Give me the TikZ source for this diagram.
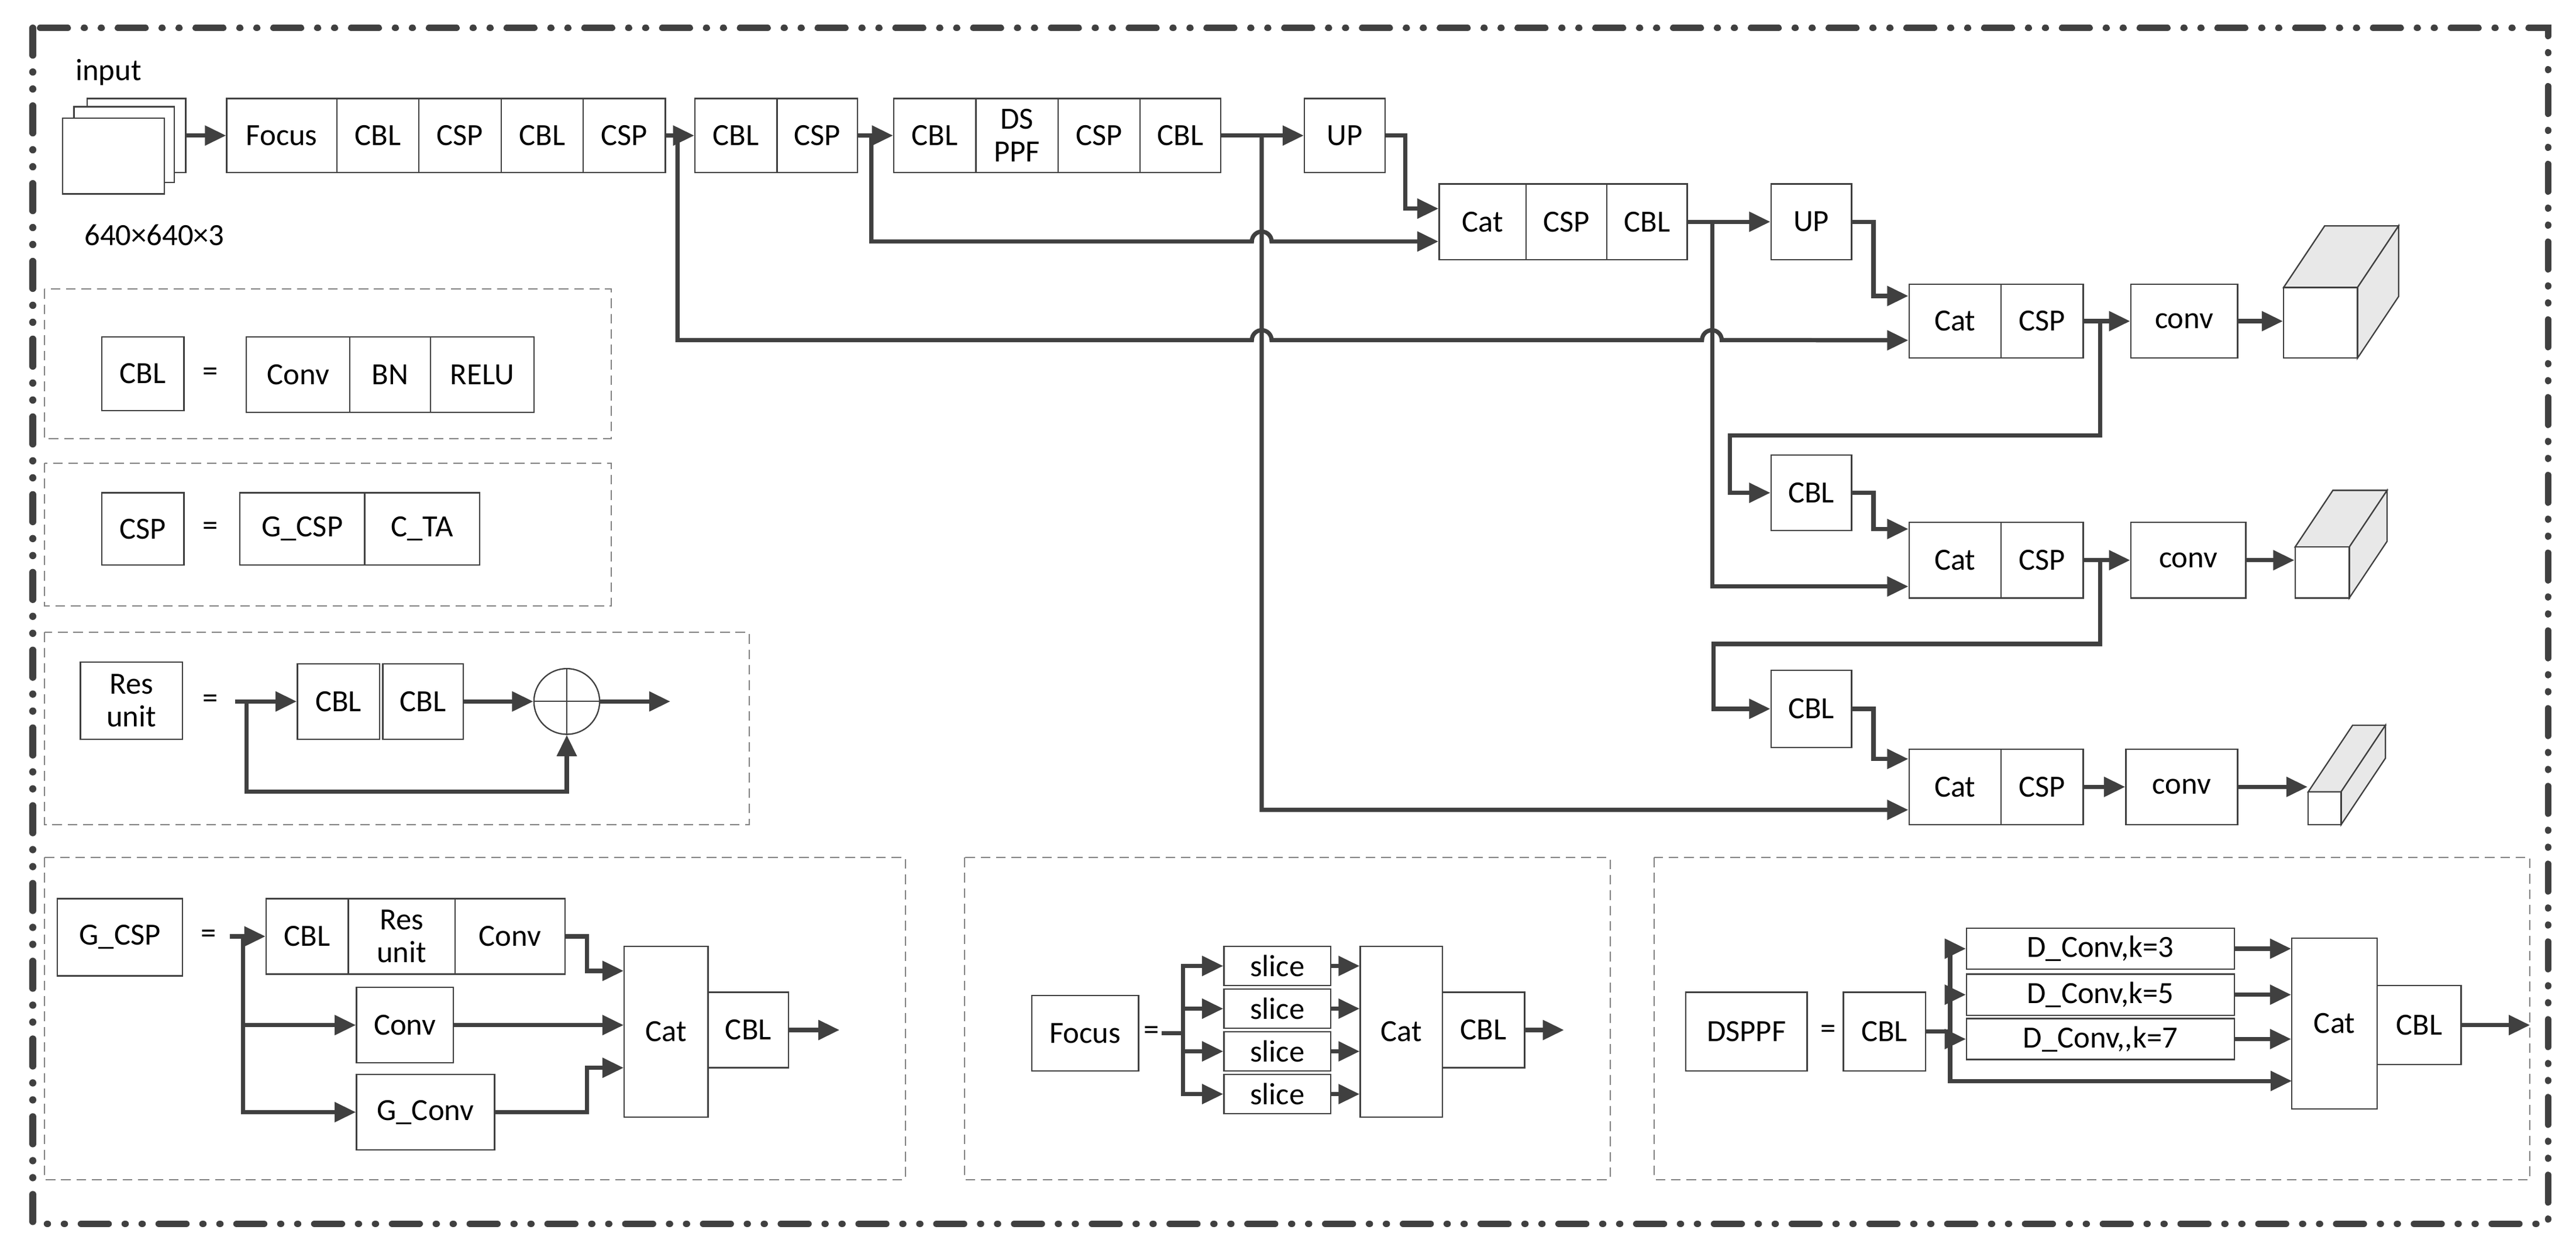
\documentclass[tikz,border=0pt]{standalone}
\usepackage{fontspec}
\setmainfont{Carlito}
\usetikzlibrary{arrows.meta,fit}
\definecolor{ink}{HTML}{404040}
\newcommand\lbl{\fontsize{16}{17}\selectfont}
\tikzset{
  blk/.style={draw=ink,line width=0.7pt,inner sep=0pt},
  arr/.style={draw=ink,line width=2.2pt,-{Triangle[length=11pt,width=10pt]}},
  ln/.style={draw=ink,line width=2.2pt},
  leg/.style={draw=gray,line width=0.6pt,dash pattern=on 5pt off 3pt},
  frame/.style={draw=ink,line width=3.5pt,line cap=round,
    dash pattern=on 0.5cm off 0.3cm on 0.01cm off 0.3cm on 0.01cm off 0.3cm},
  txt/.style={font=\lbl,inner sep=1pt},
  side/.style={draw=ink,line width=0.7pt,fill=gray!18},
}
\newcommand\bx[6]{\node[blk,fit={(#2,#3)(#4,#5)},label={[align=center,font=\lbl,inner sep=0pt]center:#6}] (#1) {};}
\newcommand\cube[5]{% x1 y1 x2 y2 offset
  \draw[side] (#1,#2) -- ++(#5,-1.5*#5) -- (#3+#5,#2-1.5*#5) -- (#3,#2) -- cycle;
  \draw[side] (#3,#2) -- (#3+#5,#2-1.5*#5) -- (#3+#5,#4-1.5*#5) -- (#3,#4) -- cycle;
  \draw[blk,fill=white] (#1,#2) rectangle (#3,#4);}
\begin{document}
\begin{tikzpicture}[x=0.03cm,y=-0.03cm]
\useasboundingbox (0,0) rectangle (1568,763);
\draw[frame] (20,17) rectangle (1551,745);

% input
\draw[blk,fill=white] (53,60) rectangle (113,105);
\draw[blk,fill=white] (45,65) rectangle (106,111);
\draw[blk,fill=white] (38,72) rectangle (100,118);
\node[blk,draw=none,fit={(38,60)(113,118)}] (in) {};
\node[txt] (tin) at (66,44) {input};
\node[txt] (tsz) at (94,143) {640×640×3};

% top row
\bx{foc}{138}{60}{205}{105}{Focus}
\bx{cbl1}{205}{60}{255}{105}{CBL}
\bx{csp1}{255}{60}{305}{105}{CSP}
\bx{cbl2}{305}{60}{355}{105}{CBL}
\bx{csp2}{355}{60}{405}{105}{CSP}
\bx{cbl3}{423}{60}{473}{105}{CBL}
\bx{csp3}{473}{60}{522}{105}{CSP}
\bx{cbl4}{544}{60}{594}{105}{CBL}
\bx{dsp}{594}{60}{644}{105}{DS\\PPF}
\bx{csp4}{644}{60}{694}{105}{CSP}
\bx{cbl5}{694}{60}{743}{105}{CBL}
\bx{up1}{794}{60}{843}{105}{UP}
\bx{cat1}{876}{112}{929}{158}{Cat}
\bx{csp5}{929}{112}{978}{158}{CSP}
\bx{cbl6}{978}{112}{1027}{158}{CBL}
\bx{up2}{1078}{112}{1127}{158}{UP}
\bx{cat3}{1162}{173}{1218}{218}{Cat}
\bx{csp6}{1218}{173}{1268}{218}{CSP}
\bx{conv1}{1297}{173}{1362}{218}{conv}
\bx{cbl7}{1078}{277}{1127}{323}{CBL}
\bx{cat4}{1162}{318}{1218}{364}{Cat}
\bx{csp7}{1218}{318}{1268}{364}{CSP}
\bx{conv2}{1297}{318}{1367}{364}{conv}
\bx{cbl8}{1078}{408}{1127}{455}{CBL}
\bx{cat5}{1162}{456}{1218}{502}{Cat}
\bx{csp8}{1218}{456}{1268}{502}{CSP}
\bx{conv3}{1294}{456}{1362}{502}{conv}
\cube{1390}{175}{1435}{218}{25}
\cube{1397}{333}{1430}{364}{23}
\cube{1405}{482}{1425}{502}{27}
\node[blk,draw=none,fit={(1390,138)(1460,218)}] (o1) {};
\node[blk,draw=none,fit={(1397,298)(1453,364)}] (o2) {};
\node[blk,draw=none,fit={(1405,442)(1452,502)}] (o3) {};

\draw[arr] (in.east |- foc.west) -- (foc.west);
\draw[arr] (csp2.east) -- (cbl3.west);
\draw[arr] (csp3.east) -- (cbl4.west);
\draw[arr] (cbl5.east) -- (up1.west);
\draw[arr] (up1.east) -- ++(12,0) |- ([yshift=0.24cm]cat1.west);
\draw[arr] (csp3.east) -- ++(8,0) |- (762,147) arc[start angle=180,end angle=0,radius=0.18cm] -- ([yshift=-0.36cm]cat1.west);
\draw[arr] (768,83) -- (768,493) -- ([yshift=-0.42cm]cat5.west);
\draw[arr] (csp2.east) -- ++(7,0) |- (762,207) arc[start angle=180,end angle=0,radius=0.18cm]
  -- (1036,207) arc[start angle=180,end angle=0,radius=0.18cm] -- ([yshift=-0.35cm]cat3.west);
\draw[arr] (cbl6.east) -- (up2.west);
\draw[arr] (cbl6.east) -- ++(15,0) |- ([yshift=-0.48cm]cat4.west);
\draw[arr] (up2.east) -- ++(13,0) |- ([yshift=0.46cm]cat3.west);
\draw[arr] (csp6.east) -- (conv1.west);
\draw[arr] (conv1.east) -- (o1.west |- conv1.east);
\draw[arr] (csp6.east) -- ++(10,0) |- (1053,265) |- (cbl7.west);
\draw[arr] (cbl7.east) -- ++(13,0) |- ([yshift=0.57cm]cat4.west);
\draw[arr] (csp7.east) -- (conv2.west);
\draw[arr] (conv2.east) -- (o2.west |- conv2.east);
\draw[arr] (csp7.east) -- ++(10,0) |- (1043,392) |- (cbl8.west);
\draw[arr] (cbl8.east) -- ++(13,0) |- ([yshift=0.51cm]cat5.west);
\draw[arr] (csp8.east) -- (conv3.west);
\draw[arr] (conv3.east) -- (o3.west |- conv3.east);

% legend CBL
\draw[leg] (27,176) rectangle (372,267);
\bx{lcbl}{62}{205}{112}{250}{CBL}
\node[txt] (e1) at (128,228) {=};
\bx{lconv}{150}{205}{213}{251}{Conv}
\bx{lbn}{213}{205}{262}{251}{BN}
\bx{lrelu}{262}{205}{325}{251}{RELU}

% legend CSP
\draw[leg] (27,282) rectangle (372,369);
\bx{lcsp}{62}{300}{112}{344}{CSP}
\node[txt] (e2) at (128,322) {=};
\bx{lgcsp}{146}{300}{222}{344}{G\_CSP}
\bx{lcta}{222}{300}{292}{344}{C\_TA}

% legend Res unit
\draw[leg] (27,385) rectangle (456,502);
\bx{lres}{49}{403}{111}{450}{Res\\unit}
\node[txt] (e3) at (128,427) {=};
\bx{rcbl1}{181}{404}{231}{450}{CBL}
\bx{rcbl2}{233}{404}{282}{450}{CBL}
\node[circle,draw=ink,line width=0.7pt,minimum size=1.2cm,inner sep=0pt] (plus) at (345,427) {};
\draw[ink,line width=0.7pt] (plus.north) -- (plus.south) (plus.west) -- (plus.east);
\coordinate (rs) at (143,427);
\coordinate (rout) at (408,427);
\draw[arr] (rs) -- (rcbl1.west);
\draw[arr] (rcbl2.east) -- (plus.west);
\draw[arr] (plus.east) -- (rout);
\draw[arr] (150,427) |- (345,482) -- (plus.south);

% legend G_CSP
\draw[leg] (27,522) rectangle (551,718);
\bx{lg}{35}{547}{111}{594}{G\_CSP}
\node[txt] (e4) at (127,570) {=};
\bx{gcbl}{162}{547}{212}{593}{CBL}
\bx{gres}{212}{547}{277}{593}{Res\\unit}
\bx{gconv1}{277}{547}{344}{593}{Conv}
\bx{gconv2}{217}{601}{276}{647}{Conv}
\bx{ggc}{217}{654}{301}{700}{G\_Conv}
\bx{gcat}{380}{576}{431}{680}{Cat}
\bx{gcbl2}{431}{604}{480}{650}{CBL}
\coordinate (gs) at (140,570);
\coordinate (gout) at (511,627);
\draw[arr] (gs) -- (gcbl.west);
\draw[arr] (148,570) |- (gconv2.west);
\draw[arr] (148,570) |- (ggc.west);
\draw[arr] (gconv1.east) -- ++(13,0) |- ([yshift=1.11cm]gcat.west);
\draw[arr] (gconv2.east) -- (gconv2.east -| gcat.west);
\draw[arr] (ggc.east) -- ++(56,0) |- ([yshift=-0.66cm]gcat.west);
\draw[arr] (gcbl2.east) -- (gout);

% legend Focus
\draw[leg] (587,522) rectangle (980,718);
\bx{ffoc}{628}{606}{693}{652}{Focus}
\node[txt] (e5) at (701,629) {=};
\bx{s1}{745}{576}{810}{600}{slice}
\bx{s2}{745}{602}{810}{626}{slice}
\bx{s3}{745}{628}{810}{652}{slice}
\bx{s4}{745}{654}{810}{678}{slice}
\bx{fcat}{828}{576}{878}{680}{Cat}
\bx{fcbl}{878}{604}{928}{650}{CBL}
\coordinate (fs) at (707,629);
\coordinate (fout) at (952,627);
\draw[ln] (fs) -- (720,629);
\foreach \s in {s1,s2,s3,s4} {
  \draw[arr] (720,629) |- (\s.west);
  \draw[arr] (\s.east) -- (\s.east -| fcat.west);
}
\draw[arr] (fcbl.east) -- (fout);

% legend DSPPF
\draw[leg] (1007,522) rectangle (1540,718);
\bx{dd}{1026}{604}{1100}{652}{DSPPF}
\node[txt] (e6) at (1113,628) {=};
\bx{dcbl}{1122}{604}{1172}{652}{CBL}
\bx{dc1}{1197}{565}{1360}{590}{D\_Conv,k=3}
\bx{dc2}{1197}{593}{1360}{618}{D\_Conv,k=5}
\bx{dc3}{1197}{620}{1360}{645}{D\_Conv,{},k=7}
\bx{dcat}{1395}{571}{1447}{675}{Cat}
\bx{dcbl2}{1447}{600}{1498}{648}{CBL}
\coordinate (dout) at (1540,624);
\draw[ln] (dcbl.east) -- (1187,628);
\foreach \s in {dc1,dc2,dc3} {
  \draw[arr] (1187,628) |- (\s.west);
  \draw[arr] (\s.east) -- (\s.east -| dcat.west);
}
\draw[arr] (1187,628) |- (1395,658);
\draw[arr] (dcbl2.east) -- (dout);
\end{tikzpicture}
\end{document}
